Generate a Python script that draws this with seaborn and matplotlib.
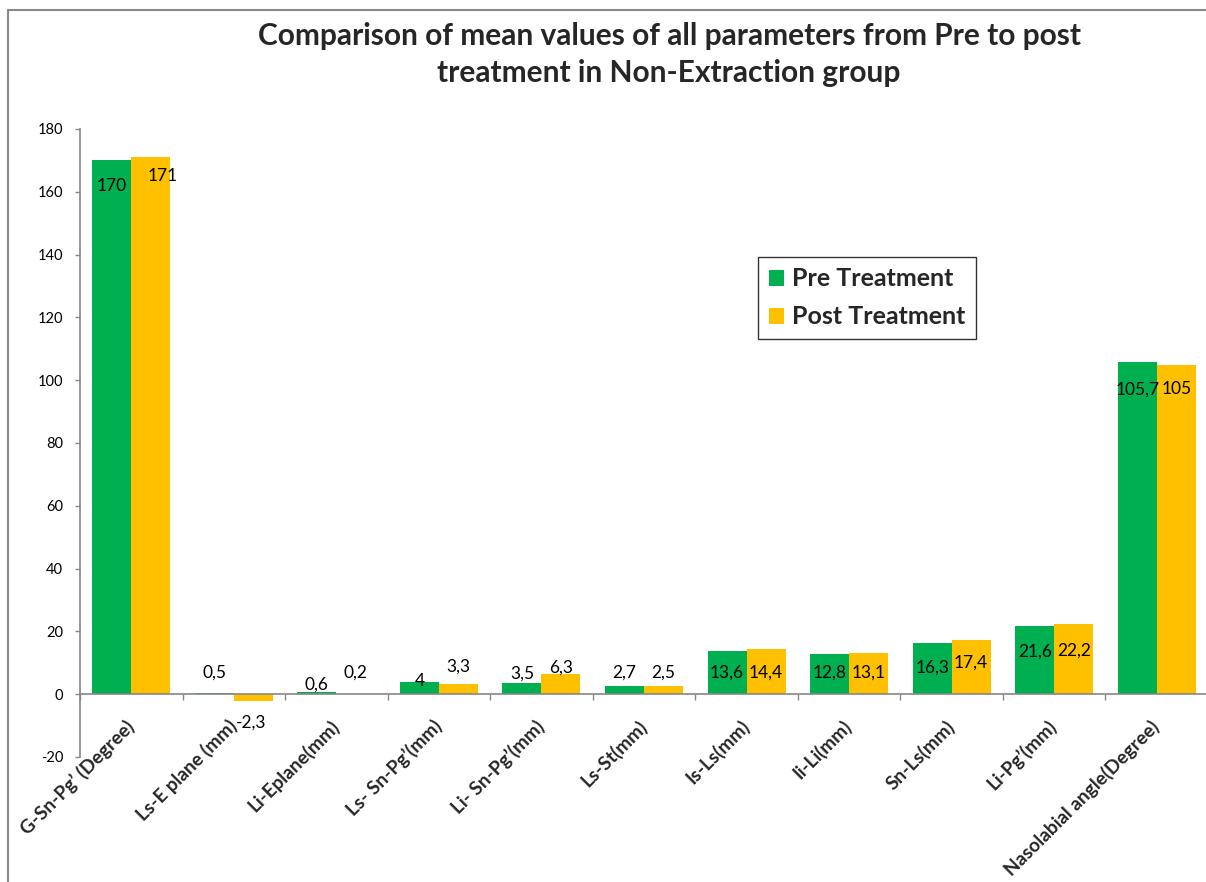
import matplotlib
matplotlib.use('Agg')
import matplotlib.pyplot as plt
import seaborn as sns
import pandas as pd
from matplotlib.patches import Patch
from matplotlib.lines import Line2D

# ---------------- data ----------------
categories = ["G-Sn-Pg\u2019 (Degree)", "Ls-E plane (mm)", "Li-Eplane(mm)",
              "Ls- Sn-Pg\u2019(mm)", "Li- Sn-Pg\u2019(mm)", "Ls-St(mm)",
              "Is-Ls(mm)", "Ii-Li(mm)", "Sn-Ls(mm)", "Li-Pg\u2019(mm)",
              "Nasolabial angle(Degree)"]
groups = ["Pre Treatment", "Post Treatment"]
pre_values = [170, 0.5, 0.6, 4, 3.5, 2.7, 13.6, 12.8, 16.3, 21.6, 105.7]
post_values = [171, -2.3, 0.2, 3.3, 6.3, 2.5, 14.4, 13.1, 17.4, 22.2, 105]
y_ticks = list(range(-20, 181, 20))
title_lines = ["Comparison of mean values of all parameters from Pre to post",
               "treatment in Non-Extraction group"]

# label placement (layout only, data units)
pre_label_y = [161.8, 7.0, 2.9, 4.1, 6.7, 7.0, 7.0, 7.0, 8.6, 13.4, 97.1]
post_label_y = [165.0, -8.9, 7.0, 8.9, 8.6, 7.0, 7.0, 7.0, 9.9, 14.0, 97.1]
post_label_dx = [0.12, -0.02, 0, 0, 0, 0, 0, 0, 0, 0, 0]

colors = ["#00B050", "#FFC000"]
grey = "#868686"

df = pd.DataFrame({
    "Parameter": categories * 2,
    "Value": pre_values + post_values,
    "Group": [groups[0]] * len(categories) + [groups[1]] * len(categories),
})

sns.set_theme(style="white")
plt.rcParams['font.family'] = ['Lato', 'DejaVu Sans']

W, H = 1206, 882
fig = plt.figure(figsize=(W / 100, H / 100), dpi=100)
ax = fig.add_axes([80 / W, 1 - 757 / H, 1128 / W, (757 - 129) / H])

sns.barplot(data=df, x="Parameter", y="Value", hue="Group", hue_order=groups,
            order=categories, palette=colors, width=0.76, linewidth=0,
            saturation=1, errorbar=None, ax=ax)
if ax.get_legend() is not None:
    ax.get_legend().remove()

ax.set_xlim(-0.5, len(categories) - 0.5)
ax.set_ylim(-20, 180)
ax.set_yticks(y_ticks)
ax.set_yticklabels([str(t) for t in y_ticks])
ax.set_xlabel("")
ax.set_ylabel("")

for s in ["top", "right"]:
    ax.spines[s].set_visible(False)
ax.spines["left"].set_color(grey)
ax.spines["left"].set_linewidth(1.2)
ax.spines["bottom"].set_position(("data", 0))
ax.spines["bottom"].set_color(grey)
ax.spines["bottom"].set_linewidth(1.2)

ax.tick_params(axis="y", direction="out", length=3.6, width=1, color=grey,
               labelsize=10.5, pad=8.5, left=True, labelcolor="#000000")
ax.set_xticks(range(len(categories)))
ax.set_xticklabels(categories, rotation=45, ha="right", va="center",
                   rotation_mode="anchor", fontweight="bold", fontsize=13.7)
ax.tick_params(axis="x", which="major", length=0, pad=21)
ax.set_xticks([i - 0.5 for i in range(len(categories) + 1)], minor=True)
ax.tick_params(axis="x", which="minor", direction="out", length=4.3, width=1,
               color=grey, bottom=True)

# data labels
def fmt(v):
    return f"{v:g}".replace(".", ",")

for bar, v, ly in zip(ax.containers[0], pre_values, pre_label_y):
    cx = bar.get_x() + bar.get_width() / 2
    ax.text(cx, ly, fmt(v), ha="center", va="center", fontsize=12.5, color="black")
for bar, v, ly, dx in zip(ax.containers[1], post_values, post_label_y, post_label_dx):
    cx = bar.get_x() + bar.get_width() / 2 + dx
    ax.text(cx, ly, fmt(v), ha="center", va="center", fontsize=12.5, color="black")

# legend
handles = [Patch(facecolor=c, edgecolor="none") for c in colors]
leg = fig.legend(handles, groups, loc="upper left",
                 bbox_to_anchor=(758 / W, 1 - 257 / H), bbox_transform=fig.transFigure,
                 frameon=True, fancybox=False, edgecolor="black",
                 prop={"weight": "bold", "size": 18}, handlelength=0.6,
                 handleheight=0.6, handletextpad=0.35, labelspacing=0.6,
                 borderpad=0.42, borderaxespad=0)
leg.get_frame().set_linewidth(1.0)

# title
fig.text(669 / W, 1 - 45 / H, title_lines[0], ha="center", va="baseline",
         fontsize=21.5, fontweight="bold")
fig.text(669 / W, 1 - 82 / H, title_lines[1], ha="center", va="baseline",
         fontsize=21.5, fontweight="bold")

# outer chart border (cropped at right and bottom)
fig.add_artist(Line2D([8 / W, 8 / W], [-0.1, 1 - 10 / H], transform=fig.transFigure,
                      color="#898989", linewidth=1.5))
fig.add_artist(Line2D([8 / W, 1.1], [1 - 10 / H, 1 - 10 / H], transform=fig.transFigure,
                      color="#898989", linewidth=1.5))

fig.savefig("out.png", dpi=100)
